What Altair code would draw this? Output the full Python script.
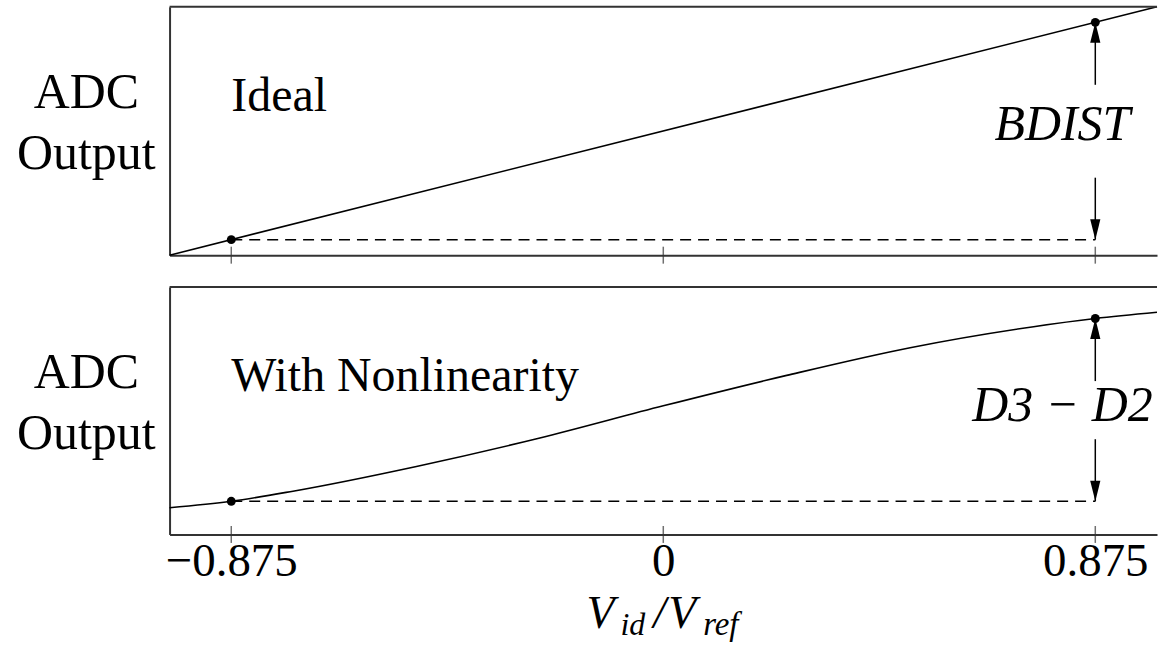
import altair as alt
import pandas as pd

FONT = "Liberation Serif, Times New Roman, DejaVu Serif, serif"
W = 990
H1 = 249
H2 = 248

# ---- data -------------------------------------------------------------
tick_values = [-0.875, 0.0, 0.875]

ideal_x = [-1.0, 1.0]
ideal_y = [0.0, 1.0]

nonlin_x = [-1.0, -0.875, -0.75, -0.5, -0.25, 0.0, 0.25, 0.5, 0.75, 0.875, 1.0]
nonlin_y = [0.108, 0.134, 0.175, 0.275, 0.390, 0.520, 0.643, 0.755, 0.840, 0.873, 0.898]

marker_x = [-0.875, 0.875]
ideal_marker_y = [0.0625, 0.9375]
nonlin_marker_y = [0.134, 0.873]

# extent of the bracket arrows (gap left for the label), panel y units
ideal_gap = [0.312, 0.686]
nonlin_gap = [0.385, 0.620]

panel_titles = ["Ideal", "With Nonlinearity"]
bracket_labels = ["BDIST", "D3 − D2"]
y_title = ["ADC", "Output"]
x_title_parts = ["V", "id", "/", "V", "ref"]

# ---- helpers ----------------------------------------------------------
xscale = alt.Scale(domain=[-1, 1], nice=False, zero=False)
yscale = alt.Scale(domain=[0, 1], nice=False, zero=False)
INK = "black"
FRAME = "#333333"


def panel(cx, cy, my, gap, title, bracket, h, show_labels):
    curve = pd.DataFrame({"x": cx, "y": cy})
    xaxis = alt.Axis(
        values=tick_values, format=".3~f", labels=show_labels,
        labelFont=FONT, labelFontSize=47, labelColor=INK, labelPadding=4,
        labelFlush=False, labelOverlap=False, labelBound=False,
        ticks=False, grid=False, domain=True, domainColor=FRAME,
        domainWidth=2, title=None,
    )
    yaxis = alt.Axis(
        domain=True, domainColor=FRAME, domainWidth=2, ticks=False,
        labels=False, grid=False, title=y_title, titleAngle=0,
        titleAlign="center", titleBaseline="middle", titleX=-84,
        titleY=h / 2 - 38.5, titleFont=FONT, titleFontSize=50,
        titleFontWeight="normal", titleColor=INK, titleLineHeight=61,
        titlePadding=0,
    )
    X = lambda: alt.X("x:Q", scale=xscale, axis=xaxis)
    Y = lambda: alt.Y("y:Q", scale=yscale, axis=yaxis)

    line = alt.Chart(curve).mark_line(
        color=INK, strokeWidth=1.6, interpolate="monotone"
    ).encode(x=X(), y=Y())

    border = alt.Chart(pd.DataFrame({"x": [-1.0], "x2": [1.0], "y": [1.0]})).mark_rule(
        color=FRAME, strokeWidth=2
    ).encode(x=X(), x2="x2:Q", y=Y())

    ticks = alt.Chart(pd.DataFrame({"x": tick_values, "y": [0.0] * 3})).mark_tick(
        orient="vertical", size=17, thickness=1.5, color=FRAME
    ).encode(x=X(), y=Y())

    dashed = alt.Chart(
        pd.DataFrame({"x": [marker_x[0]], "x2": [marker_x[1]], "y": [my[0]]})
    ).mark_rule(color=INK, strokeWidth=1.5, strokeDash=[11, 7]).encode(
        x=X(), x2="x2:Q", y=Y()
    )

    arrows = alt.Chart(
        pd.DataFrame({"x": [marker_x[1]] * 2, "y": [gap[1], gap[0]], "y2": [my[1], my[0]]})
    ).mark_rule(color=INK, strokeWidth=1.5).encode(x=X(), y=Y(), y2="y2:Q")

    head_up = alt.Chart(pd.DataFrame({"x": [marker_x[1]], "y": [my[1]]})).mark_point(
        shape="M0,0L-0.5,2L0.5,2Z", filled=True, size=420, color=INK,
        opacity=1, strokeWidth=0,
    ).encode(x=X(), y=Y())
    head_dn = alt.Chart(pd.DataFrame({"x": [marker_x[1]], "y": [my[0]]})).mark_point(
        shape="M0,0L-0.5,-2L0.5,-2Z", filled=True, size=420, color=INK,
        opacity=1, strokeWidth=0,
    ).encode(x=X(), y=Y())

    dots = alt.Chart(pd.DataFrame({"x": marker_x, "y": my})).mark_circle(
        size=80, color=INK, opacity=1
    ).encode(x=X(), y=Y())

    ptitle = alt.Chart(pd.DataFrame({"x": [marker_x[0]], "t": [title]})).mark_text(
        align="left", baseline="alphabetic", font=FONT, fontSize=48, color=INK
    ).encode(x=X(), y=alt.value(104), text="t:N")

    blabel = alt.Chart(pd.DataFrame({"x": [marker_x[1]], "t": [bracket]})).mark_text(
        align="center", baseline="alphabetic", font=FONT, fontSize=50,
        fontStyle="italic", color=INK, dx=-33,
    ).encode(x=X(), y=alt.value(134), text="t:N")

    layers = [line, border, ticks, dashed, arrows, head_up, head_dn, dots, ptitle, blabel]

    if show_labels:
        one = pd.DataFrame({"x": [0.0]})
        specs = [  # text, dx, baseline offset below plot, size
            (x_title_parts[0], -77, 94, 46),
            (x_title_parts[1], -43, 101, 32),
            (x_title_parts[2], -10, 94, 46),
            (x_title_parts[3], 5, 94, 46),
            (x_title_parts[4], 40, 101, 33),
        ]
        for txt, dx, dy, fs in specs:
            layers.append(
                alt.Chart(one).mark_text(
                    text=txt, align="left", baseline="alphabetic", font=FONT,
                    fontSize=fs, fontStyle="italic", color=INK, dx=dx,
                ).encode(x=X(), y=alt.value(h + dy))
            )

    return alt.layer(*layers).properties(width=W, height=h)


top = panel(ideal_x, ideal_y, ideal_marker_y, ideal_gap, panel_titles[0],
            bracket_labels[0], H1, False)
bottom = panel(nonlin_x, nonlin_y, nonlin_marker_y, nonlin_gap, panel_titles[1],
               bracket_labels[1], H2, True)

chart = alt.vconcat(top, bottom, spacing=32, bounds="flush").configure_view(
    stroke=None
).properties(
    padding={"left": 16, "top": 2, "right": 0, "bottom": 0},
    background="white",
)

chart.save("out.html", embed_options={"renderer": "svg", "actions": False})
